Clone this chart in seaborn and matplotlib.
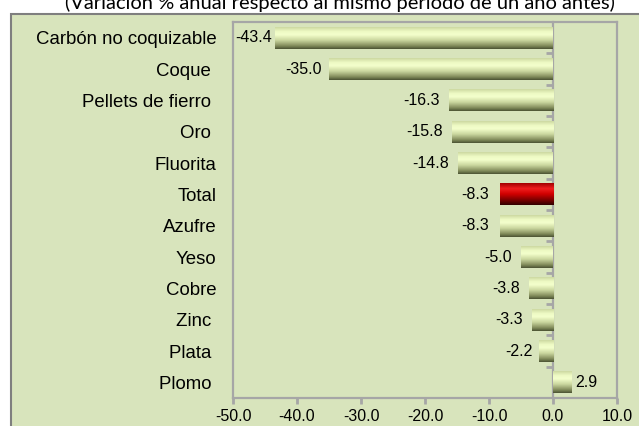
# Mining production chart - annual % change by product
import matplotlib
matplotlib.use('Agg')
import matplotlib.pyplot as plt  # Draw chart
import numpy as np
import seaborn as sns  # Draw bars
from matplotlib.colors import LinearSegmentedColormap
from matplotlib.patches import Rectangle

# Data
products = ['Carbón no coquizable', 'Coque ', 'Pellets de fierro ', 'Oro ', 'Fluorita',
            'Total', 'Azufre', 'Yeso', 'Cobre', 'Zinc ', 'Plata ', 'Plomo ']
changes = [-43.4, -35.0, -16.3, -15.8, -14.8, -8.3, -8.3, -5.0, -3.8, -3.3, -2.2, 2.9]
highlight = 'Total'
x_ticks = [-50, -40, -30, -20, -10, 0, 10]
title = '(Variación % anual respecto al mismo periodo de un año antes)'

panel_color = '#D8E4BC'
grid_grey = '#A6A6A6'

# Label gap from bar end (points), as placed in the original
label_pad = [2, 5, 6.5, 6.5, 6.5, 7.5, 7.5, 6.5, 6.5, 6.5, 4.5, 3]

# Gradient fills (top -> bottom)
green_cmap = LinearSegmentedColormap.from_list('green', [
    (0.0, '#CCD8A0'), (0.2, '#EEFAC4'), (0.35, '#F4FFCC'),
    (0.6, '#CAD69E'), (0.85, '#838D5C'), (1.0, '#4A5232')])
red_cmap = LinearSegmentedColormap.from_list('red', [
    (0.0, '#A00000'), (0.25, '#F01E1E'), (0.5, '#D00000'),
    (0.85, '#600000'), (1.0, '#300000')])

fig = plt.figure(figsize=(6.39, 4.26), dpi=100, facecolor='white')

# Outer chart panel
fig.patches.append(Rectangle((10.5 / 639, -0.05), 1.0, (426 - 14) / 426 + 0.05,
                             transform=fig.transFigure, facecolor=panel_color,
                             edgecolor='#7F7F7F', linewidth=1.5, zorder=-1))

fig.text(340 / 639, 1 - 8.5 / 426, title, ha='center', va='baseline',
         fontsize=14.5, family='Lato', color='black')

ax = fig.add_axes([233 / 639, (426 - 398) / 426, 384 / 639, (398 - 22) / 426])
ax.set_facecolor(panel_color)

sns.barplot(x=changes, y=products, orient='h', color='#C6D29A', width=0.7, ax=ax)

# Replace flat fills with gradient images
grad = np.linspace(0, 1, 256).reshape(-1, 1)
for patch, name in zip(ax.patches, products):
    x0, y0 = patch.get_x(), patch.get_y()
    w, h = patch.get_width(), patch.get_height()
    cmap = red_cmap if name == highlight else green_cmap
    im = ax.imshow(grad, cmap=cmap, aspect='auto', origin='upper',
                   extent=(x0, x0 + w, y0 + h, y0), zorder=2, interpolation='bilinear')
    im.set_clip_path(patch)
    patch.set_facecolor('none')
    patch.set_edgecolor('none')

for cont in ax.containers:
    labels = ax.bar_label(cont, fmt='%.1f', padding=5, fontsize=11.5, family='Liberation Sans')
    for lab, val, pad in zip(labels, changes, label_pad):
        lab.xyann = (pad if val > 0 else -pad, 0)

ax.set_xlim(-50, 10)
ax.set_ylim(len(products) - 0.5, -0.5)
ax.set_xticks(x_ticks)
ax.set_xticklabels([f'{v:.1f}' for v in x_ticks], fontsize=11.5, family='Liberation Sans')
ax.set_yticks(range(len(products)))
ax.set_yticklabels(products, fontsize=13.4, family='Liberation Sans')
ax.tick_params(axis='y', length=0, pad=12)
ax.tick_params(axis='x', length=4, width=2, color=grid_grey, pad=4)
ax.set_xlabel('')
ax.set_ylabel('')
for s in ax.spines.values():
    s.set_color(grid_grey)
    s.set_linewidth(1.6)

# Vertical axis at zero with ticks between categories
sec = ax.secondary_yaxis(50 / 60)
sec.set_yticks(np.arange(0.5, len(products) - 1, 1.0))
sec.set_yticklabels([])
sec.tick_params(which='both', left=True, right=False, length=5, width=2,
                color=grid_grey, direction='out')
for s in sec.spines.values():
    s.set_color(grid_grey)
    s.set_linewidth(1.6)

fig.savefig('out.png', dpi=100, facecolor='white')
